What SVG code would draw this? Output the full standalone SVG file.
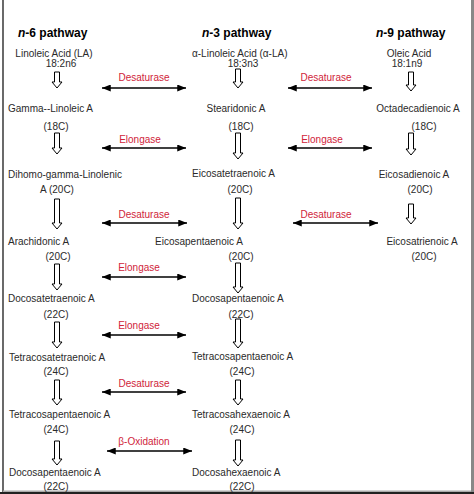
<svg xmlns="http://www.w3.org/2000/svg" width="474" height="494" viewBox="0 0 474 494">
<style>
text{font-family:"Liberation Sans",Arial,sans-serif;font-size:10px;fill:#2a2a2a}
.t{font-size:12px;font-weight:bold;fill:#000}
.r{fill:#d0243a}
.m{text-anchor:middle}
.d{fill:#fff;stroke:#000;stroke-width:1}
.h{stroke:#000;stroke-width:1.5;fill:none;marker-start:url(#ah);marker-end:url(#ah)}
</style>
<defs>
<marker id="ah" viewBox="0 0 10 8" refX="10" refY="4" markerWidth="9" markerHeight="7" markerUnits="userSpaceOnUse" orient="auto-start-reverse">
<path d="M0,0 L10,4 L0,8 Z" fill="#000"/>
</marker>
</defs>
<rect x="0" y="0" width="474" height="494" fill="#fff"/>
<g id="frame">
<line x1="3" y1="0" x2="3" y2="492" stroke="#444" stroke-width="1.6"/>
<rect x="471" y="0" width="3" height="494" fill="#888"/>
<rect x="3" y="490.5" width="468" height="1.5" fill="#aaa"/>
<rect x="0" y="492" width="474" height="2" fill="#222"/>
</g>
<g id="titles">
<text class="t" x="18" y="37"><tspan font-style="italic">n</tspan>-6 pathway</text>
<text class="t" x="202" y="37"><tspan font-style="italic">n</tspan>-3 pathway</text>
<text class="t" x="376" y="37"><tspan font-style="italic">n</tspan>-9 pathway</text>
</g>
<g id="n6-la"><text class="m" x="54" y="57">Linoleic Acid (LA)</text><text class="m" x="61" y="67">18:2n6</text></g>
<g id="n6-gla"><text x="8" y="112">Gamma--Linoleic A</text><text class="m" x="56" y="130">(18C)</text></g>
<g id="n6-dgla"><text x="8" y="178">Dihomo-gamma-Linolenic</text><text class="m" x="57" y="193">A (20C)</text></g>
<g id="n6-aa"><text x="8" y="245">Arachidonic A</text><text class="m" x="58" y="260">(20C)</text></g>
<g id="n6-dta"><text x="8" y="302">Docosatetraenoic A</text><text class="m" x="56" y="318">(22C)</text></g>
<g id="n6-tta"><text x="9" y="361">Tetracosatetraenoic A</text><text class="m" x="56" y="375">(24C)</text></g>
<g id="n6-tpa"><text x="9" y="418">Tetracosapentaenoic A</text><text class="m" x="56" y="433">(24C)</text></g>
<g id="n6-dpa"><text x="9" y="476">Docosapentaenoic A</text><text class="m" x="56" y="490">(22C)</text></g>
<g id="n3-ala"><text x="192" y="57">α-Linoleic Acid (α-LA)</text><text class="m" x="243" y="67">18:3n3</text></g>
<g id="n3-sda"><text class="m" x="236" y="112">Stearidonic A</text><text class="m" x="241" y="130">(18C)</text></g>
<g id="n3-eta"><text x="192" y="177">Eicosatetraenoic A</text><text class="m" x="240" y="193">(20C)</text></g>
<g id="n3-epa"><text x="155" y="245">Eicosapentaenoic A</text><text class="m" x="241" y="260">(20C)</text></g>
<g id="n3-dpa"><text x="192" y="302">Docosapentaenoic A</text><text class="m" x="241" y="318">(22C)</text></g>
<g id="n3-tpa"><text x="192" y="360">Tetracosapentaenoic A</text><text class="m" x="242" y="375">(24C)</text></g>
<g id="n3-tha"><text x="192" y="418">Tetracosahexaenoic A</text><text class="m" x="242" y="433">(24C)</text></g>
<g id="n3-dha"><text x="192" y="476">Docosahexaenoic A</text><text class="m" x="242" y="490">(22C)</text></g>
<g id="n9-oa"><text class="m" x="409" y="57">Oleic Acid</text><text class="m" x="407" y="67">18:1n9</text></g>
<g id="n9-oda"><text class="m" x="418" y="112">Octadecadienoic A</text><text class="m" x="424" y="130">(18C)</text></g>
<g id="n9-eda"><text class="m" x="414" y="178">Eicosadienoic A</text><text class="m" x="420" y="193">(20C)</text></g>
<g id="n9-eta"><text class="m" x="422" y="245">Eicosatrienoic A</text><text class="m" x="424" y="260">(20C)</text></g>
<g id="connectors">
<path class="d" d="M54.5,72H59.5V82H62L57,88L52,82H54.5Z"/>
<path class="d" d="M54.5,133H59.5V148H62L57,154L52,148H54.5Z"/>
<path class="d" d="M54.5,199H59.5V223H62L57,229L52,223H54.5Z"/>
<path class="d" d="M54.5,264H59.5V284H62L57,290L52,284H54.5Z"/>
<path class="d" d="M54.5,322H59.5V342H62L57,348L52,342H54.5Z"/>
<path class="d" d="M54.5,380H59.5V399H62L57,405L52,399H54.5Z"/>
<path class="d" d="M54.5,441H59.5V459H62L57,465L52,459H54.5Z"/>
<path class="d" d="M235.5,69H240.5V82H243L238,88L233,82H235.5Z"/>
<path class="d" d="M235.5,133H240.5V153H243L238,159L233,153H235.5Z"/>
<path class="d" d="M235.5,198H240.5V223H243L238,229L233,223H235.5Z"/>
<path class="d" d="M235.5,263H240.5V287H243L238,293L233,287H235.5Z"/>
<path class="d" d="M235.5,319H240.5V342H243L238,348L233,342H235.5Z"/>
<path class="d" d="M235.5,380H240.5V399H243L238,405L233,399H235.5Z"/>
<path class="d" d="M235.5,440H240.5V460H243L238,466L233,460H235.5Z"/>
<path class="d" d="M408.5,72H413.5V85H416L411,91L406,85H408.5Z"/>
<path class="d" d="M408.5,133H413.5V149H416L411,155L406,149H408.5Z"/>
<path class="d" d="M408.5,204H413.5V218H416L411,224L406,218H408.5Z"/>
<line class="h" x1="102" y1="88" x2="186" y2="88"/>
<line class="h" x1="288" y1="88" x2="372" y2="88"/>
<line class="h" x1="102" y1="148" x2="186" y2="148"/>
<line class="h" x1="288" y1="148" x2="372" y2="148"/>
<line class="h" x1="102" y1="223" x2="187" y2="223"/>
<line class="h" x1="293" y1="223" x2="378" y2="223"/>
<line class="h" x1="102" y1="277" x2="186" y2="277"/>
<line class="h" x1="102" y1="335" x2="186" y2="335"/>
<line class="h" x1="102" y1="392" x2="186" y2="392"/>
<line class="h" x1="107" y1="451" x2="192" y2="451"/>
<text class="r m" x="144" y="81">Desaturase</text>
<text class="r m" x="326" y="81">Desaturase</text>
<text class="r m" x="140" y="143">Elongase</text>
<text class="r m" x="322" y="143">Elongase</text>
<text class="r m" x="144" y="218">Desaturase</text>
<text class="r m" x="326" y="218">Desaturase</text>
<text class="r m" x="139" y="271">Elongase</text>
<text class="r m" x="139" y="329">Elongase</text>
<text class="r m" x="144" y="387">Desaturase</text>
<text class="r m" x="144" y="445">β-Oxidation</text>
</g>
</svg>
